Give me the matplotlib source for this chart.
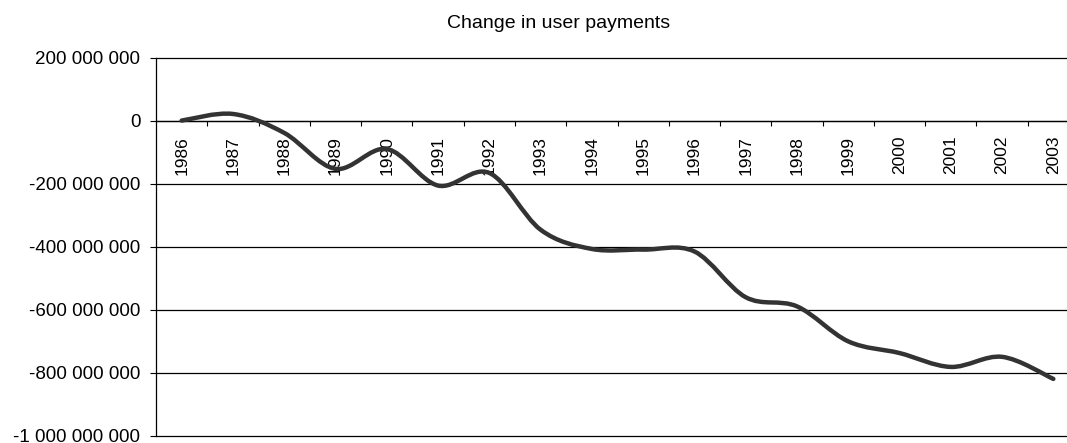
import numpy as np
import matplotlib
matplotlib.use("Agg")
import matplotlib.pyplot as plt
from matplotlib.path import Path
from matplotlib.patches import PathPatch
from matplotlib.ticker import FixedLocator, FuncFormatter

plt.rcParams['font.family'] = ['Liberation Sans', 'DejaVu Sans']

years = [str(y) for y in range(1986, 2004)]
payments = [0, 21e6, -39e6, -153e6, -90e6, -206e6, -166e6, -346e6, -407e6,
            -409e6, -415e6, -560e6, -589e6, -700e6, -737e6, -781e6, -749e6, -819e6]
y_ticks = [200e6, 0, -200e6, -400e6, -600e6, -800e6, -1000e6]


def smooth_path(xs, ys):
    # cubic bezier through every point, catmull-rom style control points
    pts = np.column_stack([xs, ys]).astype(float)
    ext = np.vstack([pts[0], pts, pts[-1]])
    verts = [pts[0]]
    codes = [Path.MOVETO]
    for i in range(len(pts) - 1):
        p0, p1, p2, p3 = ext[i], ext[i + 1], ext[i + 2], ext[i + 3]
        verts += [p1 + (p2 - p0) / 6, p2 - (p3 - p1) / 6, p2]
        codes += [Path.CURVE4] * 3
    return Path(verts, codes)


def fmt(v, pos):
    s = f"{abs(int(round(v))):,}".replace(",", " ")
    return ("-" if v < 0 else "") + s


fig = plt.figure(figsize=(10.67, 4.43), dpi=100)
ax = fig.add_axes([156 / 1067, 7 / 443, 923 / 1067, 378.5 / 443])

x = np.arange(len(years))
ax.add_patch(PathPatch(smooth_path(x, payments), facecolor='none',
                       edgecolor='#333333', lw=3.2, capstyle='round', zorder=3))

ax.set_xlim(-0.5, len(years) - 0.5)
ax.set_ylim(-1000e6, 200e6)

ax.yaxis.set_major_locator(FixedLocator(y_ticks))
ax.yaxis.set_major_formatter(FuncFormatter(fmt))
ax.tick_params(axis='y', length=4.3, width=0.8, labelsize=13.5, pad=7)
ax.grid(axis='y', color='black', lw=0.9)
for gl in ax.get_ygridlines():
    gl.set_clip_on(False)
ax.set_axisbelow(True)

ax.set_xticks(x)
ax.set_xticklabels(years)
ax.set_xticks(x[:-1] + 0.5, minor=True)
ax.tick_params(axis='x', which='major', length=0, labelsize=12.5,
               labelrotation=90, pad=11)
ax.tick_params(axis='x', which='minor', length=3.6, width=0.8, direction='out')

ax.spines['bottom'].set_position(('data', 0))
ax.spines['top'].set_visible(False)
ax.spines['right'].set_visible(False)
for s in ('left', 'bottom'):
    ax.spines[s].set_linewidth(0.9)

fig.text(559 / 1067, 1 - 24 / 443, "Change in user payments", ha='center',
         va='center', fontsize=14)

fig.savefig("out.png", dpi=100)
